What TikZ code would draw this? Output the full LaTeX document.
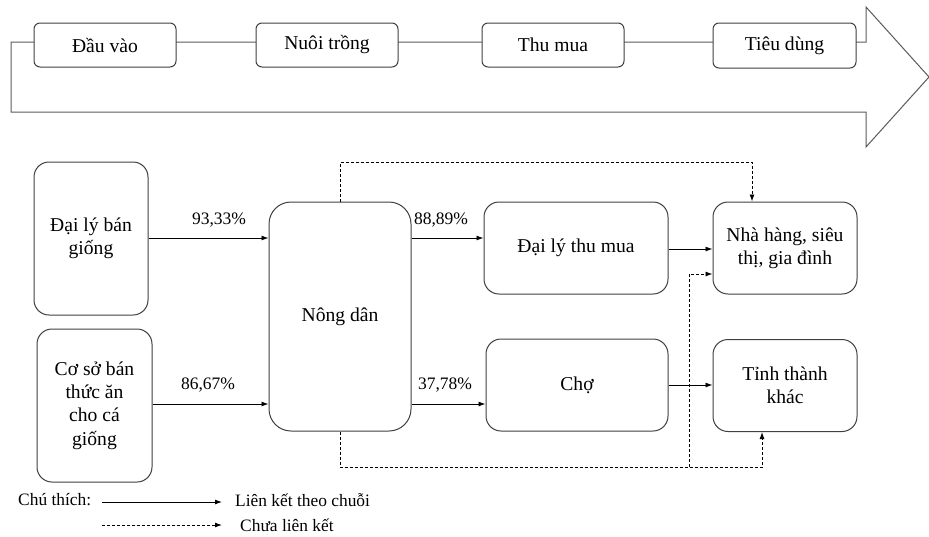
\documentclass[tikz,border=0pt]{standalone}
\usepackage{fontspec}
\setmainfont{Liberation Serif}
\usetikzlibrary{arrows.meta,calc}
\definecolor{boxline}{RGB}{64,64,64}
\definecolor{shapeline}{RGB}{90,90,90}
\tikzset{
  stagebox/.style={draw=boxline,line width=1pt,rounded corners=6pt,fill=white,
    minimum width=142pt,minimum height=44pt,inner sep=0pt,
    font=\fontsize{19.6}{23}\selectfont},
  actorbox/.style={draw=boxline,line width=1pt,rounded corners=15pt,fill=white,
    inner sep=0pt,align=center,font=\fontsize{19.6}{23.2}\selectfont},
  pct/.style={font=\fontsize{17.5}{21}\selectfont,inner sep=0pt},
  legendtext/.style={font=\fontsize{17.4}{21}\selectfont,inner sep=0pt,anchor=west},
  linked/.style={draw=black,line width=0.9pt,-{Latex[length=7pt,width=5pt]}},
  notlinked/.style={draw=black,line width=0.9pt,dash pattern=on 3pt off 2pt,-{Latex[length=7pt,width=5pt]}},
}
\begin{document}
\begin{tikzpicture}[x=1pt,y=-1pt]
\useasboundingbox (0,0) rectangle (929,536);
% big arrow outline
\draw[shapeline,line width=1pt] (11,42) -- (866,42) -- (866,7) -- (929,77) -- (866,147) -- (866,112) -- (11,112) -- cycle;
% stage boxes
\node[stagebox] (dv) at (105,45) {Đầu vào};
\node[stagebox] (nt) at (327,45) {Nuôi trồng};
\node[stagebox] (tm) at (553,45) {Thu mua};
\node[stagebox,minimum width=143pt,minimum height=45pt] (td) at (784.5,45.5) {Tiêu dùng};
% actor boxes
\node[actorbox,minimum width=114pt,minimum height=153pt] (dlbg) at (91,238.5) {Đại lý bán\\giống};
\node[actorbox,minimum width=115pt,minimum height=153pt] (csb) at (94.5,405.5) {Cơ sở bán\\thức ăn\\cho cá\\giống};
\node[actorbox,rounded corners=22pt,minimum width=142pt,minimum height=229pt] (nd) at (340,316.5) {Nông dân};
\node[actorbox,minimum width=184pt,minimum height=92pt] (dltm) at (576,248) {Đại lý thu mua};
\node[actorbox,minimum width=144pt,minimum height=92pt] (nh) at (785,248) {Nhà hàng, siêu\\thị, gia đình};
\node[actorbox,minimum width=182pt,minimum height=92pt] (cho) at (577,385) {Chợ};
\node[actorbox,minimum width=144pt,minimum height=92pt] (ttk) at (785,385.5) {Tỉnh thành\\khác};
% linked arrows
\draw[linked] (dlbg.east |- 0,238) -- (nd.west |- 0,238);
\draw[linked] (csb.east |- 0,404) -- (nd.west |- 0,404);
\draw[linked] (nd.east |- 0,238) -- (dltm.west |- 0,238);
\draw[linked] (nd.east |- 0,404) -- (cho.west |- 0,404);
\draw[linked] (dltm.east |- 0,249) -- (nh.west |- 0,249);
\draw[linked] (cho.east) -- (ttk.west |- cho.east);
% percentages
\node[pct] (p1) at (219,220) {93,33\%};
\node[pct] (p2) at (208,385) {86,67\%};
\node[pct] (p3) at (441,220) {88,89\%};
\node[pct] (p4) at (445,385) {37,78\%};
% not linked
\coordinate (topbend) at (752,162);
\coordinate (botbend) at (762,467);
\coordinate (split) at (689,467);
\draw[notlinked] (nd.north) |- (topbend) -- (nh.north -| topbend);
\draw[notlinked] (nd.south) |- (botbend) -- (ttk.south -| botbend);
\draw[notlinked] (split) -- (split |- 0,274) -- (nh.west |- 0,274);
% legend
\node[legendtext] (ct) at (18,500) {Chú thích:};
\coordinate (l1a) at (102,502);
\coordinate (l1b) at (222,502);
\coordinate (l2a) at (102,525);
\coordinate (l2b) at (222,525);
\draw[linked] (l1a) -- (l1b);
\draw[notlinked] (l2a) -- (l2b);
\node[legendtext] (lt1) at (235,500) {Liên kết theo chuỗi};
\node[legendtext] (lt2) at (240,525.5) {Chưa liên kết};
\end{tikzpicture}
\end{document}
